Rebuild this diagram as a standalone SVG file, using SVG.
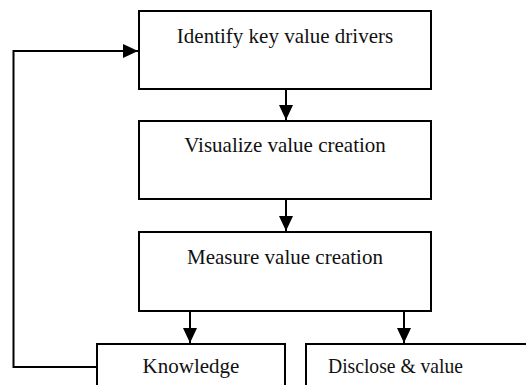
<svg xmlns="http://www.w3.org/2000/svg" width="526" height="385" viewBox="0 0 526 385">
<style>
.box{fill:#fff;stroke:#000;stroke-width:2}
.lbl{font-family:"Liberation Serif","Times New Roman",serif;font-size:21px;fill:#111}
.c{text-anchor:middle}
.conn{fill:none;stroke:#000;stroke-width:2}
</style>
<defs>
<marker id="ah" markerUnits="userSpaceOnUse" markerWidth="16" markerHeight="16" viewBox="0 0 16 16" refX="15" refY="8" orient="auto">
<path d="M0,1 L15,8 L0,15 Z" fill="#000"/>
</marker>
</defs>
<rect width="526" height="385" fill="#fff"/>
<g id="connectors">
<line class="conn" x1="286" y1="90" x2="286" y2="120" marker-end="url(#ah)"/>
<line class="conn" x1="286" y1="200" x2="286" y2="231" marker-end="url(#ah)"/>
<line class="conn" x1="190" y1="312" x2="190" y2="343" marker-end="url(#ah)"/>
<line class="conn" x1="404" y1="312" x2="404" y2="343" marker-end="url(#ah)"/>
<polyline class="conn" points="97,367 13.5,367 13.5,51 138,51" marker-end="url(#ah)"/>
</g>
<g id="identify">
<rect class="box" x="139" y="11" width="292" height="78"/>
<text class="lbl c" x="285" y="43">Identify key value drivers</text>
</g>
<g id="visualize">
<rect class="box" x="139" y="121" width="292" height="78"/>
<text class="lbl c" x="285" y="152">Visualize value creation</text>
</g>
<g id="measure">
<rect class="box" x="139" y="232" width="292" height="79"/>
<text class="lbl c" x="285" y="264">Measure value creation</text>
</g>
<g id="knowledge">
<rect class="box" x="97" y="344" width="188" height="60"/>
<text class="lbl c" x="191" y="373">Knowledge</text>
</g>
<g id="disclose">
<rect class="box" x="306" y="344" width="240" height="60"/>
<text class="lbl" x="328" y="373" textLength="135" lengthAdjust="spacingAndGlyphs">Disclose &amp; value</text>
</g>
</svg>
